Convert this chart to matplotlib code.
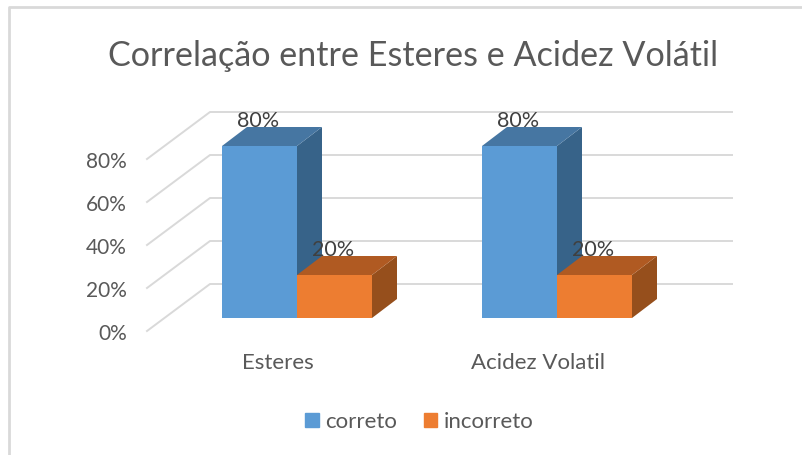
import matplotlib
matplotlib.use('Agg')
import matplotlib.pyplot as plt
from matplotlib.patches import Polygon, Patch

categories = ['Esteres', 'Acidez Volatil']
correto = [80, 80]
incorreto = [20, 20]
ticks = [0, 20, 40, 60, 80]
tick_labels = ['0%', '20%', '40%', '60%', '80%']
title = 'Correlação entre Esteres e Acidez Volátil'

plt.rcParams['font.family'] = 'Lato'
text_color = '#595959'
grid_color = '#d9d9d9'

W, H = 803, 455
px_x = 260.0     # pixels per category
px_y = 2.15      # pixels per percent
x0, y0 = 297, 318  # where category 0 / value 0 sit, in pixels


def dx(p):
    return p / px_x


def dy(p):
    return p / px_y


fig = plt.figure(figsize=(W / 100, H / 100), dpi=100)
ax = fig.add_axes([0, 0, 1, 1])
ax.set_xlim(-x0 / px_x, (W - x0) / px_x)
ax.set_ylim((y0 - H) / px_y, y0 / px_y)
ax.axis('off')

# chart frame
ax.plot([9 / W, 9 / W, 1], [0, 1 - 7 / H, 1 - 7 / H], transform=ax.transAxes,
        color=grid_color, lw=2)

# wall and floor grid
front_x, back_x, right_x = dx(147 - x0), dx(210 - x0), dx(732 - x0)
front_off, back_off = dy(-13), dy(34)
for t, lab in zip(ticks, tick_labels):
    ax.plot([front_x, back_x, right_x], [t + front_off, t + back_off, t + back_off],
            color=grid_color, lw=1.4, zorder=1)
    ax.text(dx(127 - x0), t + front_off - dy(3), lab, ha='right', va='center', fontsize=15, color=text_color)

bar_w = dx(75)
depth_x, depth_y = dx(25), dy(19)


def bar3d(left, value, front, top, side):
    r = left + bar_w
    ax.add_patch(Polygon([(r, 0), (r + depth_x, depth_y), (r + depth_x, value + depth_y), (r, value)],
                         color=side, lw=0, zorder=3))
    ax.add_patch(Polygon([(left, value), (r, value), (r + depth_x, value + depth_y), (left + depth_x, value + depth_y)],
                         color=top, lw=0, zorder=3))
    ax.add_patch(Polygon([(left, 0), (r, 0), (r, value), (left, value)], color=front, lw=0, zorder=4))
    ax.text(left + bar_w / 2 - dx(1.5), value + dy(25), '%d%%' % value, ha='center', va='center',
            fontsize=15.5, color='#404040', zorder=6)


for i, cat in enumerate(categories):
    bar3d(i - bar_w, correto[i], '#5b9bd5', '#4676a2', '#376389')
    bar3d(i, incorreto[i], '#ed7d31', '#b05a22', '#964f1c')
    ax.text(i - dx(19), dy(-45), cat, ha='center', va='center', fontsize=16, color=text_color)

ax.text(dx(413 - x0), dy(y0 - 56), title, ha='center', va='center', fontsize=24.6, color=text_color)

handles = [Patch(color='#5b9bd5', label='correto'), Patch(color='#ed7d31', label='incorreto')]
ax.legend(handles=handles, ncols=2, frameon=False, loc='center',
          bbox_to_anchor=(419.5 / W, 1 - 422 / H), fontsize=16, labelcolor=text_color,
          handlelength=0.6, handleheight=0.6, handletextpad=0.3, columnspacing=1.2)

plt.savefig('out.png', dpi=100)
